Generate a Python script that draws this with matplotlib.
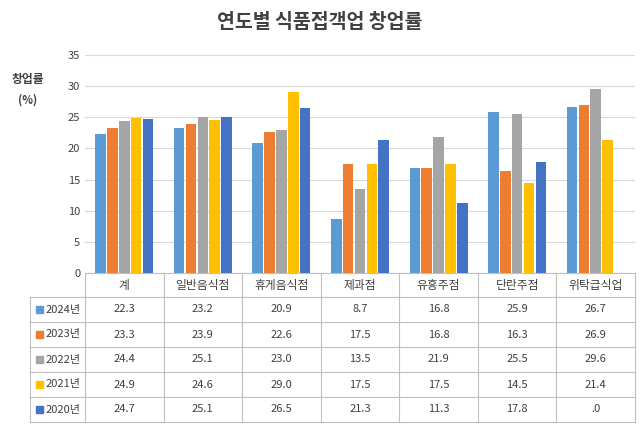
import matplotlib
matplotlib.use("Agg")
import matplotlib.pyplot as plt
import numpy as np
from matplotlib.lines import Line2D
from matplotlib.patches import Rectangle

plt.rcParams['font.family'] = 'Noto Sans CJK KR'

categories = ["계", "일반음식점", "휴게음식점", "제과점", "유흥주점", "단란주점", "위탁급식업"]
years = ["2024년", "2023년", "2022년", "2021년", "2020년"]
v2024 = [22.3, 23.2, 20.9, 8.7, 16.8, 25.9, 26.7]
v2023 = [23.3, 23.9, 22.6, 17.5, 16.8, 16.3, 26.9]
v2022 = [24.4, 25.1, 23.0, 13.5, 21.9, 25.5, 29.6]
v2021 = [24.9, 24.6, 29.0, 17.5, 17.5, 14.5, 21.4]
v2020 = [24.7, 25.1, 26.5, 21.3, 11.3, 17.8, 0.0]
series = [v2024, v2023, v2022, v2021, v2020]
colors = ["#5B9BD5", "#ED7D31", "#A5A5A5", "#FFC000", "#4472C4"]

W, H = 640, 433
fig = plt.figure(figsize=(W/100, H/100), dpi=100)
def fx(px): return px / W
def fy(py): return 1 - py / H

L, R, T, B = 85, 635, 55, 273
ax = fig.add_axes([fx(L), fy(B), fx(R - L), (B - T) / H])
n = len(categories)
x = np.arange(n)
bw = 0.135
for i, (vals, c) in enumerate(zip(series, colors)):
    ax.bar(x + (i - 2) * bw * 1.12, vals, width=bw, color=c, zorder=3)
ax.set_xlim(-0.5, n - 0.5)
ax.set_ylim(0, 35)
ax.set_yticks(range(0, 36, 5))
ax.tick_params(axis='y', length=0, labelsize=8, colors='#404040')
ax.set_xticks([])
ax.grid(axis='y', color='#D9D9D9', linewidth=0.8, zorder=0)
for s in ["top", "right", "left"]:
    ax.spines[s].set_visible(False)
ax.spines["bottom"].set_color('#BFBFBF')

fig.text(0.5, fy(22), "연도별 식품접객업 창업률", ha='center', va='center',
         fontsize=14, fontweight='bold', color='#404040')
fig.text(fx(28), fy(80), "창업률", ha='center', va='center', fontsize=8.5, fontweight='bold', color='#404040')
fig.text(fx(28), fy(100), "(%)", ha='center', va='center', fontsize=8, fontweight='bold', color='#404040')

# data table
lc = '#BFBFBF'
cw = (R - L) / n
rows_top = 297
rh = 25
def hline(y, x0, x1):
    fig.add_artist(Line2D([fx(x0), fx(x1)], [fy(y), fy(y)], color=lc, lw=0.8))
def vline(xp, y0, y1):
    fig.add_artist(Line2D([fx(xp), fx(xp)], [fy(y0), fy(y1)], color=lc, lw=0.8))
hline(rows_top, 30, R)
for k in range(len(years)):
    hline(rows_top + (k + 1) * rh, 30, R)
vline(30, rows_top, rows_top + 5 * rh)
for j in range(n + 1):
    vline(L + j * cw, B, rows_top + 5 * rh)
for j, c in enumerate(categories):
    fig.text(fx(L + (j + 0.5) * cw), fy((B + rows_top) / 2), c, ha='center', va='center',
             fontsize=8.5, color='#404040')
for k, (yr, vals, col) in enumerate(zip(years, series, colors)):
    yc = rows_top + (k + 0.5) * rh
    fig.add_artist(Rectangle((fx(36), fy(yc + 3.5)), 7 / W, 7 / H, color=col, transform=fig.transFigure))
    fig.text(fx(46), fy(yc), yr, ha='left', va='center', fontsize=8, color='#404040')
    for j, v in enumerate(vals):
        s = f"{v:.1f}" if v != 0 else ".0"
        fig.text(fx(L + (j + 0.5) * cw), fy(yc), s, ha='center', va='center', fontsize=8, color='#404040')

fig.savefig("out.png", dpi=100)
